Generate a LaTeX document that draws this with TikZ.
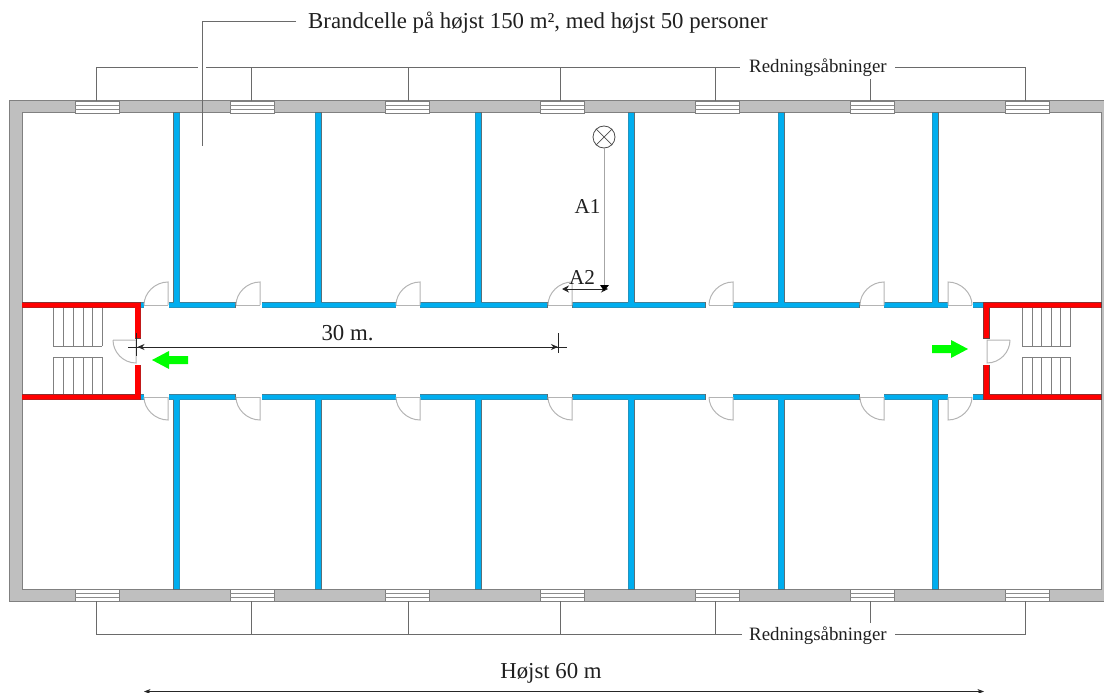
\documentclass[tikz,border=0pt]{standalone}
\usepackage{fontspec}
\setmainfont{Liberation Serif}
\usetikzlibrary{arrows.meta}
\definecolor{wallgrey}{HTML}{BFBFBF}
\definecolor{walledge}{HTML}{808080}
\definecolor{blueWall}{HTML}{00AEEF}
\definecolor{fireRed}{HTML}{FF0000}
\definecolor{exitGreen}{HTML}{00FF00}
\definecolor{doorGrey}{HTML}{B4B4B4}
\definecolor{lineGrey}{HTML}{6A6A6A}
\tikzset{
  leader/.style={draw=lineGrey,line width=1pt},
  doorline/.style={draw=doorGrey,line width=1pt},
  stairline/.style={draw=black!50,line width=0.8pt},
  dim/.style={draw=black!85,line width=0.8pt},
  dimtip/.style={-{Stealth[length=7pt,width=6pt]}},
  lab/.style={inner sep=0pt,text=black!88},
  labbig/.style={lab,font=\fontsize{22.8}{24}\selectfont},
  labsmall/.style={lab,font=\fontsize{21.2}{24}\selectfont},
  labmid/.style={lab,font=\fontsize{18.9}{20}\selectfont},
}
% door: hinge x, wall y, horizontal direction, vertical direction
\newcommand{\doorleaf}[4]{%
  \fill[white] (#1+#3*24,#2-#4*3.4) rectangle (#1,#2+#4*2.6);
  \draw[doorline] (#1,#2) -- (#1+#3*24,#2);
  \draw[doorline] (#1,#2) -- (#1,#2+#4*23)
    .. controls (#1+#3*13,#2+#4*23) and (#1+#3*24,#2+#4*12) .. (#1+#3*24,#2);
}
\newcommand{\flight}[2]{%
  \foreach \sx in {#2}{\draw[stairline] (\sx,308) -- (\sx,346) (\sx,357) -- (\sx,394);}
  \draw[stairline] (#1,346) -- ++(48.5,0) (#1,357) -- ++(48.5,0);
}
\begin{document}
\begin{tikzpicture}[x=1pt,y=-1pt]
\useasboundingbox (0,0) rectangle (1104,693);
\clip (0,0) rectangle (1104,693);
% outer wall
\path[fill=wallgrey,draw=walledge,line width=1pt,even odd rule]
  (9,101) rectangle (1112,601) (22,113) rectangle (1101,589);
% windows
\foreach \wx in {75,230,385,540,695,850,1005}{
  \foreach \wy/\wa/\wb in {101/105/109,589/593/597}{
    \fill[white] (\wx,\wy) rectangle ++(44,12);
    \draw[walledge,line width=0.8pt] (\wx,\wy) rectangle ++(44,12);
    \draw[black!45,line width=0.7pt] (\wx,\wa) -- ++(44,0) (\wx,\wb) -- ++(44,0);
  }
}
% brackets
\draw[leader] (96,101) -- (96,68) -- (198,68);
\draw[leader] (206,68) -- (740,68);
\draw[leader] (895,68) -- (1025,68) -- (1025,101);
\draw[leader] (96,601) -- (96,634) -- (742,634);
\draw[leader] (895,634) -- (1025,634) -- (1025,601);
\foreach \vx in {251,408,560,715}{
  \draw[leader] (\vx,68) -- (\vx,101);
  \draw[leader] (\vx,634) -- (\vx,601);
}
\draw[leader] (870,79) -- (870,101);
\draw[leader] (870,623) -- (870,601);
% blue walls
\def\bluewalls{
  (173.8,113) rectangle (179.7,303) (315.3,113) rectangle (321.2,303)
  (475.3,113) rectangle (481.2,303) (628.3,113) rectangle (634.2,303)
  (778.3,113) rectangle (784.2,303) (932.3,113) rectangle (938.2,303)
  (173.8,399) rectangle (179.7,589) (315.3,399) rectangle (321.2,589)
  (475.3,399) rectangle (481.2,589) (628.3,399) rectangle (634.2,589)
  (778.3,399) rectangle (784.2,589) (932.3,399) rectangle (938.2,589)
  (141,302.5) rectangle (144,307.7) (169,302.5) rectangle (235,307.7)
  (262,302.5) rectangle (396,307.7) (420,302.5) rectangle (547,307.7)
  (572.5,302.5) rectangle (705,307.7) (733,302.5) rectangle (859,307.7)
  (884,302.5) rectangle (948,307.7) (973,302.5) rectangle (984,307.7)
  (141,394.5) rectangle (144,399.7) (169,394.5) rectangle (235,399.7)
  (262,394.5) rectangle (396,399.7) (420,394.5) rectangle (547,399.7)
  (572.5,394.5) rectangle (705,399.7) (733,394.5) rectangle (859,399.7)
  (884,394.5) rectangle (948,399.7) (973,394.5) rectangle (984,399.7)
}
\path[draw=black!60,line width=1pt] \bluewalls;
\path[fill=blueWall] \bluewalls;
% doors
\foreach \hx/\hd in {168/-1,260/-1,420/-1,572/-1,733/-1,884/-1,948/1}{
  \doorleaf{\hx}{305}{\hd}{-1}
  \doorleaf{\hx}{397}{\hd}{1}
}
% stairs
\flight{53}{53,63,73,83,92.5,102}
\flight{1022}{1022,1032,1041,1051,1060.5,1070.5}
% red walls
\def\redwalls{
  (22,302.5) rectangle (140.5,307.7) (135,302.5) rectangle (140.5,338)
  (135,365) rectangle (140.5,399.7) (22,394.5) rectangle (140.5,399.7)
  (983.5,302.5) rectangle (1101,307.7) (983.5,302.5) rectangle (989,338)
  (983.5,365) rectangle (989,399.7) (983.5,394.5) rectangle (1101,399.7)
}
\path[draw=black!70,line width=0.9pt] \redwalls;
\path[fill=fireRed] \redwalls;
% stair doors
\draw[doorline] (113,340) -- (136,340) -- (136,363)
  .. controls (123,363) and (113,352) .. (113,340);
\draw[doorline] (1010,340) -- (987,340) -- (987,363)
  .. controls (1000,363) and (1010,352) .. (1010,340);
% leader to fire cell
\coordinate (cellend) at (202,146);
\node[labbig,anchor=west] (cell) at (308,23) {Brandcelle på højst 150 m², med højst 50 personer};
\draw[leader] (296,22) -- (202,22) -- (cellend);
% rescue labels
\node[labmid] (rescuetop) at (818,67.5) {Redningsåbninger};
\node[labmid] (rescuebot) at (818,636) {Redningsåbninger};
% exit arrows
\fill[exitGreen] (152,360) -- (169,351) -- (169,356) -- (188,356) -- (188,364) -- (169,364) -- (169,369) -- cycle;
\fill[exitGreen] (968,349) -- (951,340) -- (951,345) -- (932,345) -- (932,353) -- (951,353) -- (951,358) -- cycle;
% travel distance 30 m
\coordinate (d30a) at (128,347);
\coordinate (d30b) at (567,347);
\draw[dim] (d30a) -- (138,347);
\draw[dim,dimtip] (558,347) -- (137.5,347);
\draw[dim,dimtip] (138,347) -- (558,347);
\draw[dim] (558,347) -- (d30b);
\draw[dim] (136,333) -- (136,356);
\draw[dim] (558,333) -- (558,353);
\node[labbig] (thirty) at (347.5,333) {30 m.};
% detector and A1 / A2
\node[circle,draw=black!70,line width=0.8pt,minimum size=22pt,inner sep=0pt] (det) at (604,137) {};
\draw[black!70,line width=0.7pt] (det.45) -- (det.225) (det.135) -- (det.315);
\coordinate (a1end) at (604,291);
\coordinate (a2end) at (562,289);
\draw[draw=black!35,line width=1pt] (det) ++(0,11) -- (604,285);
\draw[dim,{Stealth[length=7pt,width=7pt]}-{Stealth[length=7pt,width=7pt]}] (a2end) -- (608,289);
\fill[black] (600,285) -- (609,285) -- (604,291) -- cycle;
\node[labsmall] (aone) at (587.5,207) {A1};
\node[labsmall] (atwo) at (582,277) {A2};
% overall width
\node[labbig] (sixty) at (551,673) {Højst 60 m};
\draw[dim,Stealth-Stealth] (144,691.5) -- (984,691.5);
\end{tikzpicture}
\end{document}
